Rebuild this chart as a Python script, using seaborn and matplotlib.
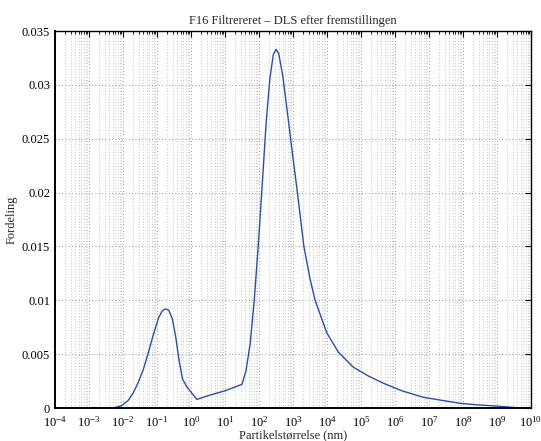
import numpy as np
import pandas as pd
import seaborn as sns
import matplotlib.pyplot as plt
from matplotlib.ticker import LogLocator, FixedLocator, FuncFormatter

# particle size as log10(nm)
log_size = [-4.0, -3.0, -2.3, -2.05, -1.85, -1.70, -1.55, -1.40, -1.25, -1.10,
            -0.95, -0.85, -0.76, -0.66, -0.55, -0.45, -0.35, -0.25, -0.13, 0.17,
            0.56, 1.0, 1.50, 1.62, 1.74, 1.86, 1.98, 2.10, 2.21, 2.32,
            2.42, 2.50, 2.58, 2.70, 2.86, 3.0, 3.11, 3.32, 3.50, 3.65,
            3.99, 4.33, 4.77, 5.2, 5.66, 6.2, 6.83, 7.4, 7.91, 8.4,
            8.89, 9.3, 9.7]
fordeling = [0, 0, 0, 0.0002, 0.0007, 0.0014, 0.0024, 0.0036, 0.0052, 0.0069,
             0.0084, 0.0090, 0.0092, 0.0091, 0.0083, 0.0066, 0.0044, 0.0027, 0.0020, 0.0008,
             0.0012, 0.0016, 0.0022, 0.0035, 0.0060, 0.0100, 0.0152, 0.0210, 0.0265, 0.0306,
             0.0328, 0.0333, 0.0329, 0.0308, 0.0268, 0.0232, 0.0205, 0.0150, 0.0120, 0.0100,
             0.0070, 0.0052, 0.0038, 0.0030, 0.0023, 0.0016, 0.0010, 0.0007, 0.00044, 0.0003,
             0.0002, 0.0001, 0.0]

y_ticks = [0, 0.005, 0.01, 0.015, 0.02, 0.025, 0.03, 0.035]
y_labels = ['0', '0.005', '0.01', '0.015', '0.02', '0.025', '0.03', '0.035']

df = pd.DataFrame({'size': 10 ** np.array(log_size), 'Fordeling': fordeling})

sns.set_style('white')
plt.rcParams['font.family'] = ['Liberation Serif', 'DejaVu Serif']
plt.rcParams['mathtext.fontset'] = 'custom'
plt.rcParams['mathtext.rm'] = 'Liberation Serif'
plt.rcParams['mathtext.it'] = 'Liberation Serif'

fig = plt.figure(figsize=(5.41, 4.41), dpi=100)
ax = fig.add_axes([0.1017, 0.0748, 0.8798, 0.8549])

sns.lineplot(data=df, x='size', y='Fordeling', color='#2b4bb3', linewidth=1.0, ax=ax, sort=False)

ax.set_xscale('log')
ax.set_xlim(1e-4, 1e10)
ax.set_ylim(0, 0.035)

ax.xaxis.set_major_locator(LogLocator(base=10, numticks=30))
ax.xaxis.set_minor_locator(LogLocator(base=10, subs=np.arange(2, 10), numticks=200))
ax.xaxis.set_major_formatter(FuncFormatter(lambda v, p: r'$10^{%d}$' % round(np.log10(v))))
ax.yaxis.set_major_locator(FixedLocator(y_ticks))
ax.set_yticklabels(y_labels)

dots = (0, (1, 3))
ax.grid(True, which='major', axis='both', linestyle=dots, color='#777777', linewidth=0.6)
ax.grid(True, which='minor', axis='x', linestyle=dots, color='#999999', linewidth=0.5)

ax.tick_params(which='both', direction='in', top=True, right=True, labelsize=9, colors='black')
ax.tick_params(which='major', length=4, width=0.8)
ax.tick_params(axis='x', which='major', pad=5)
ax.tick_params(which='minor', length=2, width=0.6)
for s in ax.spines.values():
    s.set_visible(True)
    s.set_color('black')
    s.set_linewidth(1.0)
ax.spines['left'].set_linewidth(1.4)
ax.spines['bottom'].set_linewidth(1.4)

ax.set_title('F16 Filtrereret \u2013 DLS efter fremstillingen', fontsize=9, pad=5)
ax.set_xlabel('Partikelstørrelse (nm)', fontsize=9, labelpad=0)
ax.set_ylabel('Fordeling', fontsize=9, labelpad=3)

fig.savefig('out.png', dpi=100)
